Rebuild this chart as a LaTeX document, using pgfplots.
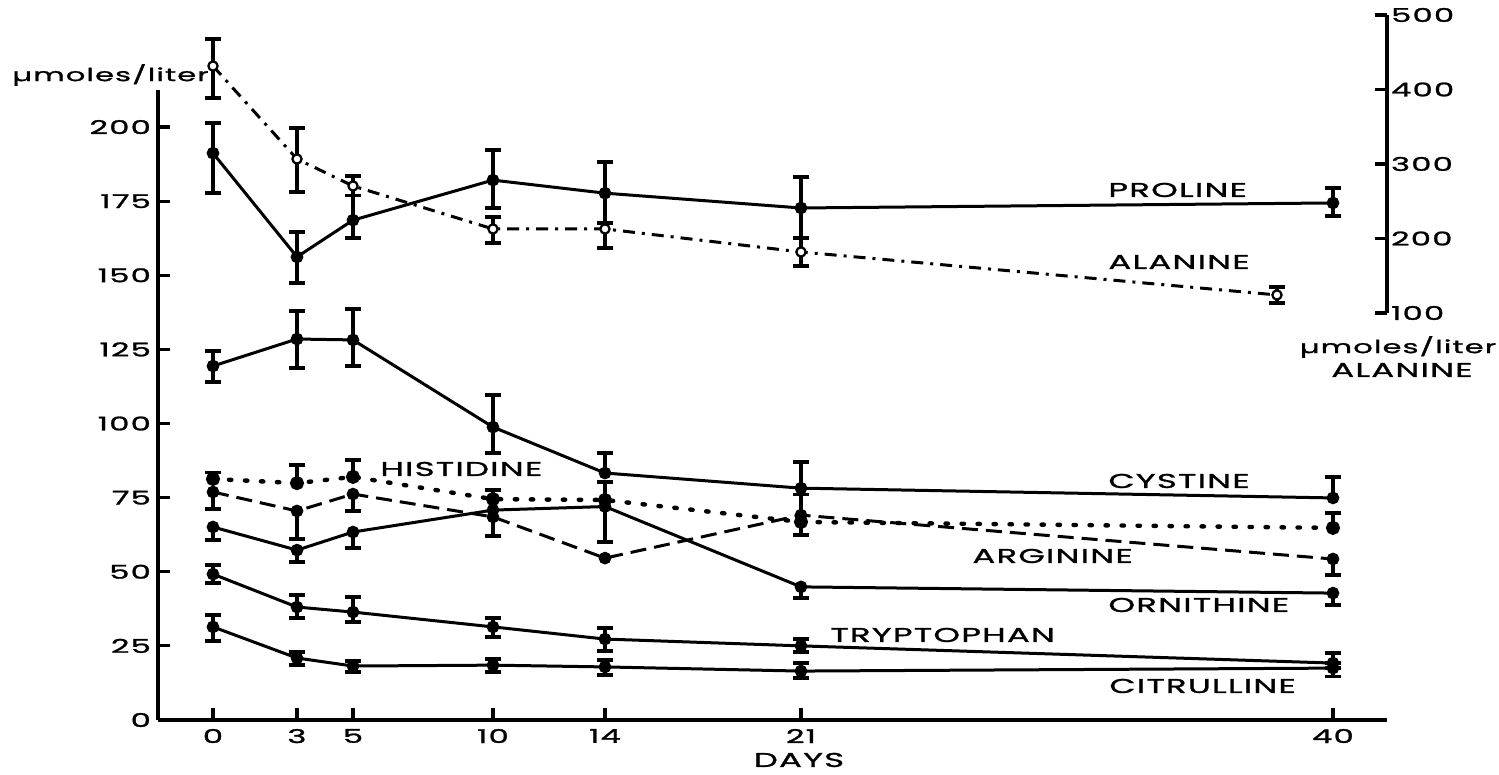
\documentclass[border=0pt]{standalone}
\usepackage{fontspec}
\setmainfont{Poppins}[FakeStretch=1.7, LetterSpace=6, FakeBold=1.3]
\usepackage{pgfplots}
\usepackage{pgfplotstable}
\pgfplotsset{compat=1.18}

% ---------- data (left axis, umoles/liter) ----------
\pgfplotstableread{
x y ep em
0 191.2 10.1 13.5
3 156.2 8.4 8.8
5 168.6 8.4 6.0
10 182.1 10.1 9.4
14 177.7 10.5 10.1
21 172.7 10.4 10.1
40 174.4 5.0 4.4
}\proline
% alanine (right axis)
\pgfplotstableread{
x y ep em
0 431.5 36.3 42.9
3 306.7 41.6 44.3
5 270.5 13.4 12.5
10 212.8 16.1 18.8
14 212.8 8.0 25.6
21 181.9 18.8 18.9
38 124.2 10.7 10.8
}\alanine
\pgfplotstableread{
x y
0 119.4
3 128.5
5 128.2
10 98.8
14 83.3
21 78.2
40 74.9
}\cystine
\pgfplotstableread{
x y ep em
0 119.4 5.1 5.4
3 128.5 9.4 9.8
5 128.2 10.4 8.8
10 98.8 10.8 8.8
}\cystineB
\pgfplotstableread{
x y e
14 83.3 6.7
21 78.2 8.8
40 74.9 7.0
}\cystineU
\pgfplotstableread{
x y
0 81.3
3 79.9
5 82.0
10 74.5
14 74.2
21 66.8
40 64.8
}\histidine
\pgfplotstableread{
x y e
0 81.3 2.2
3 79.9 6.1
5 82.0 5.7
10 74.5 3.1
40 64.8 5.0
}\histidineU
\pgfplotstableread{
x y e
21 66.8 4.4
}\histidineD
\pgfplotstableread{
x y
0 76.9
3 70.5
5 76.2
10 68.5
14 54.6
21 69.1
40 54.3
}\arginine
\pgfplotstableread{
x y e
0 76.9 5.7
3 70.5 9.5
5 76.2 5.7
10 68.5 6.5
40 54.3 5.4
}\arginineD
\pgfplotstableread{
x y e
21 69.1 7.0
}\arginineU
\pgfplotstableread{
x y
0 65.1
3 57.3
5 63.4
10 70.8
14 72.0
21 44.9
40 42.8
}\ornithine
\pgfplotstableread{
x y e
0 65.1 4.4
3 57.3 4.0
5 63.4 5.4
21 44.9 3.8
40 42.8 4.0
}\ornithineD
\pgfplotstableread{
x y ep em
14 72.0 8.3 12.0
}\ornithineB
\pgfplotstableread{
x y ep em
0 49.2 3.1 3.0
3 38.1 4.1 3.7
5 36.4 5.1 3.4
10 31.4 3.0 3.4
14 27.3 3.7 4.0
21 25.0 2.3 2.1
40 19.2 3.4 0
}\tryptophan
\pgfplotstableread{
x y ep em
0 31.4 4.0 4.8
3 20.9 2.0 2.4
5 18.2 1.7 2.0
10 18.5 2.1 2.3
14 17.9 2.3 2.7
21 16.5 2.7 2.3
40 17.5 0 2.8
}\citrulline

\pgfplotsset{
  errbase/.style={only marks, mark=*, mark size=2.4pt, black, forget plot,
    error bars/y explicit,
    error bars/error bar style={line width=1.7pt, solid, black},
    error bars/error mark options={rotate=90, mark size=4pt, line width=1.7pt, solid, black}},
  errboth/.style={errbase, error bars/y dir=both},
  errup/.style={errbase, error bars/y dir=plus},
  errdown/.style={errbase, error bars/y dir=minus},
  ser/.style={black, line width=1.5pt, mark=*, mark size=2.4pt, mark options={solid, fill=black}},
}

\begin{document}
\begin{tikzpicture}
\path[use as bounding box] (0,0) rectangle (749.5pt,387.5pt);

\begin{axis}[
  at={(79pt,27.5pt)}, anchor=south west, scale only axis,
  width=614.5pt, height=315pt,
  xmin=-1.964, xmax=41.93, ymin=0, ymax=212.5,
  axis x line=bottom, axis y line=left,
  axis line style={line width=2pt, -},
  every outer x axis line/.append style={-},
  every outer y axis line/.append style={-},
  xtick={0,3,5,10,14,21,40}, ytick={0,25,...,200},
  tick align=inside, major tick length=6pt,
  tick style={line width=1.6pt, black},
  /pgf/number format/assume math mode=true,
  ticklabel style={font=\fontsize{9.5}{10}\selectfont},
  xticklabel style={yshift=-1pt},
  clip=false,
]
% error bars
\addplot[errboth] table[x=x, y=y, y error plus=ep, y error minus=em] {\proline};
\addplot[errboth] table[x=x, y=y, y error plus=ep, y error minus=em] {\cystineB};
\addplot[errup] table[x=x, y=y, y error=e] {\cystineU};
\addplot[errup] table[x=x, y=y, y error=e] {\histidineU};
\addplot[errdown] table[x=x, y=y, y error=e] {\histidineD};
\addplot[errdown] table[x=x, y=y, y error=e] {\arginineD};
\addplot[errup] table[x=x, y=y, y error=e] {\arginineU};
\addplot[errdown] table[x=x, y=y, y error=e] {\ornithineD};
\addplot[errboth] table[x=x, y=y, y error plus=ep, y error minus=em] {\ornithineB};
\addplot[errboth] table[x=x, y=y, y error plus=ep, y error minus=em] {\tryptophan};
\addplot[errboth] table[x=x, y=y, y error plus=ep, y error minus=em] {\citrulline};
% series
\addplot[ser] table[x=x, y=y] {\proline};
\addplot[ser] table[x=x, y=y] {\cystine};
\addplot[ser, line width=2.2pt, line cap=round, dash pattern=on 1.2pt off 6.8pt] table[x=x, y=y] {\histidine};
\addplot[ser, dash pattern=on 8pt off 4pt] table[x=x, y=y] {\arginine};
\addplot[ser] table[x=x, y=y] {\ornithine};
\addplot[ser] table[x=x, y=y] {\tryptophan};
\addplot[ser] table[x=x, y=y] {\citrulline};
\end{axis}

\begin{axis}[
  at={(79pt,231pt)}, anchor=south west, scale only axis,
  width=614.5pt, height=149pt,
  xmin=-1.964, xmax=41.93, ymin=100, ymax=500,
  axis y line=right, hide x axis,
  axis line style={line width=2pt, -},
  every outer y axis line/.append style={-},
  ytick={100,200,...,500},
  tick align=inside, major tick length=6pt,
  tick style={line width=1.6pt, black},
  /pgf/number format/assume math mode=true,
  ticklabel style={font=\fontsize{9.5}{10}\selectfont},
  yticklabel style={xshift=-1.5pt},
  clip=false,
]
\addplot[errboth] table[x=x, y=y, y error plus=ep, y error minus=em] {\alanine};
\addplot[black, line width=1.5pt, dash pattern=on 6pt off 3.5pt on 1.5pt off 3.5pt,
  mark=*, mark size=2.3pt, mark options={solid, fill=white, draw=black, line width=1.1pt}]
  table[x=x, y=y] {\alanine};
\end{axis}

\begin{scope}[every node/.style={inner sep=0pt, font=\fontsize{10}{12}\selectfont}]
\node[anchor=west, font=\fontsize{9}{11}\selectfont] at (6pt,350pt) {µmoles/liter};
\node[anchor=west] at (554pt,292.5pt) {PROLINE};
\node[anchor=west] at (554pt,256.5pt) {ALANINE};
\node[font=\fontsize{9}{11}\selectfont] at (699pt,214pt) {µmoles/liter};
\node at (701pt,202.5pt) {ALANINE};
\node[anchor=west] at (190pt,153pt) {HISTIDINE};
\node[anchor=west] at (554pt,147pt) {CYSTINE};
\node[anchor=west] at (486pt,109.5pt) {ARGININE};
\node[anchor=west] at (554pt,85pt) {ORNITHINE};
\node[anchor=west] at (415pt,70pt) {TRYPTOPHAN};
\node[anchor=west] at (554.5pt,44.5pt) {CITRULLINE};
\node at (399.5pt,7.5pt) {DAYS};
\end{scope}
\end{tikzpicture}
\end{document}
